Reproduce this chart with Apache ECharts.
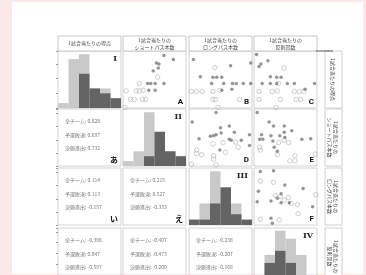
<!DOCTYPE html>
<html>
  <head>
    <meta charset="UTF-8" />
    <title>散布図行列</title>
    <script src="https://cdn.jsdelivr.net/npm/echarts@6/dist/echarts.min.js"></script>
    <style>
      body {
        margin: 0;
        background-color: #fbe9e9;
      }
      .paper {
        position: absolute;
        left: 12px;
        top: 2px;
        width: 351px;
        height: 272px;
        background-color: #fff;
      }
      #main {
        position: absolute;
        left: 0;
        top: 0;
        width: 366px;
        height: 275px;
      }
    </style>
  </head>
  <body>
    <div class="paper"></div>
    <div id="main"></div>
  </body>
  <script>
    // 変数名（列見出し・右側ラベル）
    var varNames = [
      "1試合当たりの得点",
      "1試合当たりの\nショートパス本数",
      "1試合当たりの\nロングパス本数",
      "1試合当たりの\n反則回数",
    ];
    var romanLabels = ["I", "II", "III", "IV"];
    var upperLabels = ["A", "B", "C", "D", "E", "F"];
    var lowerLabels = ["あ", "い", "う", "え", "お", "か"];

    // ヒストグラム（全チーム / 決勝進出）
    var histBins = ["1", "2", "3", "4", "5", "6"];
    var histAll1 = [1, 10, 11, 4, 4, 2];
    var histAdv1 = [0, 0, 7, 4, 3, 2];
    var histAll2 = [1, 3, 11, 7, 3, 2];
    var histAdv2 = [0, 0, 2, 7, 3, 2];
    var histAll3 = [1, 4, 10, 7, 4, 1];
    var histAdv3 = [1, 1, 4, 7, 2, 1];
    var histAll4 = [0, 5, 11, 9, 5, 0];
    var histAdv4 = [0, 3, 6, 3, 0, 0];

    // 相関係数 あ〜か
    var corrAll = [0.828, 0.114, -0.398, 0.215, -0.407, -0.238];
    var corrOut = [0.697, 0.113, 0.047, 0.527, -0.473, -0.207];
    var corrAdv = [0.732, -0.157, -0.597, -0.333, -0.2, -0.168];

    // 散布図 A〜F（決勝進出 = 塗り, 予選敗退 = 白抜き）
    var advA = [[53, 79], [57, 77], [65, 92], [80, 85], [48, 65], [56, 70], [39, 43], [44, 43], [51, 43], [65, 43], [41, 31], [51, 31]];
    var outA = [[55, 54], [26, 43], [5, 30], [21, 30], [26, 30], [32, 31], [12, 15], [18, 15], [31, 15], [36, 15], [3, 1]];
    var advB = [[7, 85], [98, 79], [66, 74], [18, 55], [38, 54], [44, 54], [52, 54], [36, 43], [55, 43], [69, 43], [75, 43], [86, 43], [98, 43], [68, 33], [52, 31]];
    var outB = [[41, 71], [4, 29], [12, 29], [21, 29], [38, 29], [49, 31], [38, 15], [42, 15], [80, 15], [46, 1]];
    var advC = [[4, 94], [22, 83], [11, 77], [8, 73], [26, 55], [36, 54], [43, 54], [13, 43], [26, 43], [36, 43], [53, 43], [64, 43], [96, 43], [81, 33]];
    var outC = [[48, 70], [39, 43], [8, 29], [29, 29], [37, 30], [64, 29], [72, 29], [79, 29], [8, 15], [42, 15], [67, 15], [74, 15], [35, 1]];
    var advD = [[43, 94], [5, 77], [50, 67], [64, 70], [16, 48], [34, 52], [39, 53], [43, 55], [51, 58], [72, 59], [64, 47], [67, 45], [83, 45], [96, 55], [96, 36], [49, 28]];
    var outD = [[38, 39], [54, 41], [74, 42], [78, 33], [12, 28], [12, 22], [20, 20], [39, 18], [39, 12], [58, 24], [43, 2], [4, 3]];
    var advE = [[5, 94], [24, 77], [31, 70], [48, 70], [48, 59], [60, 62], [12, 55], [9, 47], [14, 47], [27, 53], [30, 44], [41, 53], [49, 50], [32, 33], [37, 26], [76, 47], [90, 48]];
    var outE = [[9, 33], [10, 28], [39, 41], [48, 45], [55, 41], [37, 20], [65, 18], [57, 9], [65, 9], [97, 21]];
    var advF = [[10, 94], [31, 95], [7, 59], [49, 70], [78, 64], [43, 55], [37, 47], [27, 42], [43, 39], [56, 39], [5, 41], [93, 32], [27, 12], [29, 3]];
    var outF = [[10, 77], [31, 75], [34, 52], [42, 50], [48, 44], [55, 48], [59, 38], [69, 36], [70, 20], [10, 10], [40, 9], [98, 53]];

    (function () {
      var histAll = [histAll1, histAll2, histAll3, histAll4];
      var histAdv = [histAdv1, histAdv2, histAdv3, histAdv4];
      var scatterAdv = [advA, advB, advC, advD, advE, advF];
      var scatterOut = [outA, outB, outC, outD, outE, outF];

      var colLeft = [58, 123, 189, 254];
      var rowTop = [51, 109, 168, 228];
      var cellW = 63,
        cellH = 57;
      var jpFont = '"Noto Sans CJK JP"';

      var myChart = echarts.init(document.getElementById("main"));
      var grids = [],
        xAxes = [],
        yAxes = [],
        series = [],
        graphics = [];
      var upperIdx = 0;

      function pairIndex(r, c) {
        // あ〜か は列ごとに数える
        var order = [[1, 0], [2, 0], [3, 0], [2, 1], [3, 1], [3, 2]];
        for (var i = 0; i < order.length; i++) {
          if (order[i][0] == r && order[i][1] == c) return i;
        }
        return -1;
      }

      for (var r = 0; r < 4; r++) {
        for (var c = 0; c < 4; c++) {
          var g = grids.length;
          var cx = colLeft[c],
            cy = rowTop[r];
          grids.push({
            left: cx,
            top: cy,
            width: cellW,
            height: cellH,
            show: true,
            backgroundColor: "#fff",
            borderColor: "#d2d2d2",
            borderWidth: 1,
          });
          var yAxis = {
            gridIndex: g,
            type: "value",
            min: 0,
            max: 100,
            show: c == 0,
            axisLine: { show: false },
            axisTick: { show: true, length: 2, lineStyle: { color: "#999" } },
            axisLabel: { show: false },
            splitLine: { show: false },
            interval: 23,
          };
          if (r == c) {
            var maxH = Math.max.apply(null, histAll[r]);
            xAxes.push({
              gridIndex: g,
              type: "category",
              data: histBins,
              show: false,
            });
            yAxis.max = maxH * 1.06;
            yAxis.interval = 3;
            yAxes.push(yAxis);
            series.push({
              type: "bar",
              xAxisIndex: g,
              yAxisIndex: g,
              data: histAll[r],
              barWidth: "100%",
              barGap: "-100%",
              itemStyle: { color: "#c9c9c9" },
              silent: true,
            });
            series.push({
              type: "bar",
              xAxisIndex: g,
              yAxisIndex: g,
              data: histAdv[r],
              barWidth: "100%",
              barGap: "-100%",
              itemStyle: { color: "#646464" },
              silent: true,
            });
            graphics.push({
              type: "text",
              style: {
                text: romanLabels[r],
                x: cx + cellW - 4,
                y: cy + 8,
                align: "right",
                verticalAlign: "middle",
                font: 'bold 8px "DejaVu Serif"',
                fill: "#222",
              },
            });
          } else if (r < c) {
            xAxes.push({ gridIndex: g, type: "value", min: 0, max: 100, show: false });
            yAxes.push(yAxis);
            series.push({
              type: "scatter",
              xAxisIndex: g,
              yAxisIndex: g,
              data: scatterOut[upperIdx],
              symbol: "circle",
              symbolSize: 4.5,
              clip: false,
              itemStyle: { color: "rgba(255,255,255,0)", borderColor: "#b4b4b4", borderWidth: 0.8 },
              silent: true,
            });
            series.push({
              type: "scatter",
              xAxisIndex: g,
              yAxisIndex: g,
              data: scatterAdv[upperIdx],
              symbol: "circle",
              symbolSize: 3.5,
              clip: false,
              itemStyle: { color: "#7a7a7a" },
              silent: true,
            });
            graphics.push({
              type: "text",
              style: {
                text: upperLabels[upperIdx],
                x: cx + cellW - 3,
                y: cy + cellH - 6,
                align: "right",
                verticalAlign: "middle",
                font: "bold 8px Roboto",
                fill: "#111",
              },
            });
            upperIdx++;
          } else {
            xAxes.push({ gridIndex: g, type: "value", min: 0, max: 100, show: false });
            yAxes.push(yAxis);
            var p = pairIndex(r, c);
            var lines = [
              "全チーム: " + corrAll[p].toFixed(3),
              "予選敗退: " + corrOut[p].toFixed(3),
              "決勝進出: " + corrAdv[p].toFixed(3),
            ];
            for (var k = 0; k < 3; k++) {
              graphics.push({
                type: "text",
                style: {
                  text: lines[k],
                  x: cx + 7,
                  y: cy + 12.5 + k * 13.5,
                  verticalAlign: "middle",
                  font: "5px " + jpFont,
                  fill: "#777",
                },
              });
            }
            graphics.push({
              type: "text",
              style: {
                text: lowerLabels[p],
                x: cx + cellW - 3,
                y: cy + cellH - 6,
                align: "right",
                verticalAlign: "middle",
                font: "bold 8px " + jpFont,
                fill: "#111",
              },
            });
          }
        }
      }

      // 列見出し・右側ラベル
      for (var i = 0; i < 4; i++) {
        graphics.push({
          type: "rect",
          shape: { x: colLeft[i], y: 36, width: cellW, height: 15 },
          style: { fill: "#fff", stroke: "#c6c6c6", lineWidth: 1 },
        });
        graphics.push({
          type: "text",
          style: {
            text: varNames[i],
            x: colLeft[i] + cellW / 2,
            y: 43.5,
            align: "center",
            verticalAlign: "middle",
            font: "5px " + jpFont,
            lineHeight: 7,
            fill: "#444",
          },
        });
        graphics.push({
          type: "rect",
          shape: { x: 325, y: rowTop[i], width: 17, height: cellH },
          style: { fill: "#fff", stroke: "#d0d0d0", lineWidth: 1 },
        });
        graphics.push({
          type: "text",
          x: 333,
          y: rowTop[i] + cellH / 2,
          rotation: -Math.PI / 2,
          style: {
            text: varNames[i],
            x: 0,
            y: 0,
            align: "center",
            verticalAlign: "middle",
            font: "5px " + jpFont,
            lineHeight: 6,
            fill: "#444",
          },
        });
      }
      graphics.push({
        type: "line",
        shape: { x1: 316, y1: 51, x2: 333, y2: 51 },
        style: { stroke: "#555", lineWidth: 1 },
      });

      myChart.setOption({
        animation: false,
        grid: grids,
        xAxis: xAxes,
        yAxis: yAxes,
        series: series,
        graphic: graphics,
      });
    })();
  </script>
</html>
